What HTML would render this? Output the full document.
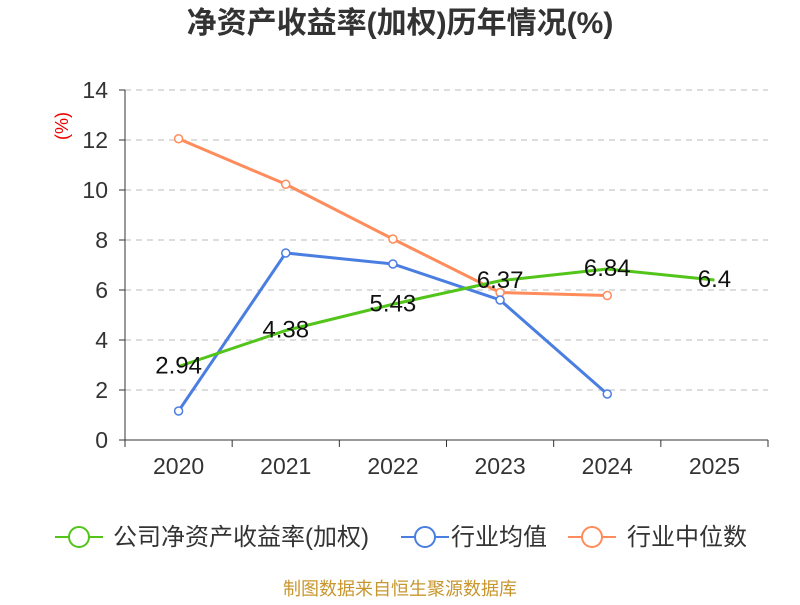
<!DOCTYPE html>
<html><head><meta charset="utf-8"><style>
body{margin:0;background:#fff;}
svg text{font-family:"Liberation Sans","Noto Sans CJK SC",sans-serif;}
</style></head><body>
<svg id="c" width="800" height="600" xmlns="http://www.w3.org/2000/svg">
<text x="400" y="33" text-anchor="middle" font-size="30" font-weight="bold" fill="#333">净资产收益率(加权)历年情况(%)</text>
<text transform="translate(68,126) rotate(-90)" text-anchor="middle" font-size="18" fill="#e00">(%)</text>
<g id="grid"></g><g id="axes"></g><g id="series"></g>
<g>
<g><line x1="55" y1="537" x2="103" y2="537" stroke="#52c41a" stroke-width="2"/><circle cx="79" cy="537" r="10" fill="#fff" stroke="#52c41a" stroke-width="2"/><text x="113" y="545" font-size="24" fill="#333">公司净资产收益率(加权)</text></g>
<g><line x1="401" y1="537" x2="449" y2="537" stroke="#4a7ee0" stroke-width="2"/><circle cx="425" cy="537" r="10" fill="#fff" stroke="#4a7ee0" stroke-width="2"/><text x="451" y="545" font-size="24" fill="#333">行业均值</text></g>
<g><line x1="568" y1="537" x2="616" y2="537" stroke="#ff8c5a" stroke-width="2"/><circle cx="592" cy="537" r="10" fill="#fff" stroke="#ff8c5a" stroke-width="2"/><text x="627" y="545" font-size="24" fill="#333">行业中位数</text></g>
</g>
<text x="400" y="595" text-anchor="middle" font-size="18" fill="#c8962e">制图数据来自恒生聚源数据库</text>
</svg>
<script>
const categories=["2020","2021","2022","2023","2024","2025"];
const company=[2.94,4.38,5.43,6.37,6.84,6.4];
const industryAvg=[1.16,7.48,7.04,5.6,1.84];
const industryMedian=[12.05,10.23,8.04,5.9,5.78];
const yTicks=[0,2,4,6,8,10,12,14];
const NS="http://www.w3.org/2000/svg";
const x0=125,x1=768,y0=440,y1=90,yMax=14;
const bw=(x1-x0)/categories.length;
const X=i=>x0+bw*(i+0.5);
const Y=v=>y0-(v/yMax)*(y0-y1);
function mk(tag,attrs,parent){const e=document.createElementNS(NS,tag);for(const k in attrs)e.setAttribute(k,attrs[k]);document.getElementById(parent).appendChild(e);return e;}
yTicks.forEach(t=>{
 if(t>0){const g=mk('line',{x1:x0,x2:x1,y1:Y(t),y2:Y(t),stroke:'#bbb','stroke-dasharray':'6,5'},'grid');
 
 }
 const tk=mk('line',{x1:x0-6,x2:x0,y1:Y(t),y2:Y(t),stroke:'#333'},'axes');
 
 
 const l=mk('text',{x:x0-17,y:Y(t)+8,'text-anchor':'end','font-size':'23',fill:'#333'},'axes');l.textContent=t;
 
 
});
const ya=mk('line',{x1:x0,x2:x0,y1:y1,y2:y0,stroke:'#333'},'axes');


const xa=mk('line',{x1:x0,x2:x1,y1:y0,y2:y0,stroke:'#333'},'axes');


for(let i=0;i<=categories.length;i++){const t=mk('line',{x1:x0+bw*i,x2:x0+bw*i,y1:y0,y2:y0+7,stroke:'#333'},'axes');
 
 }
categories.forEach((c,i)=>{const l=mk('text',{x:X(i),y:y0+34,'text-anchor':'middle','font-size':'23',fill:'#333'},'axes');l.textContent=c;
 
 });
function series(data,color,name,markers,labels){
 const p=mk('polyline',{points:data.map((v,i)=>X(i)+','+Y(v)).join(' '),fill:'none',stroke:color,'stroke-width':3},'series');
 
 
 data.forEach((v,i)=>{
  if(markers){const c=mk('circle',{cx:X(i),cy:Y(v),r:4,fill:'#fff',stroke:color,'stroke-width':1.5},'series');
  
  }
  if(labels){const t=mk('text',{x:X(i),y:Y(v)+7,'text-anchor':'middle','font-size':'24',fill:'#111'},'series');t.textContent=v;
  
  }
 });
}
series(industryMedian,'#ff8c5a','industry-median',true,false);
series(industryAvg,'#4a7ee0','industry-avg',true,false);
series(company,'#52c41a','company-roe',false,true);
</script>
</body></html>
